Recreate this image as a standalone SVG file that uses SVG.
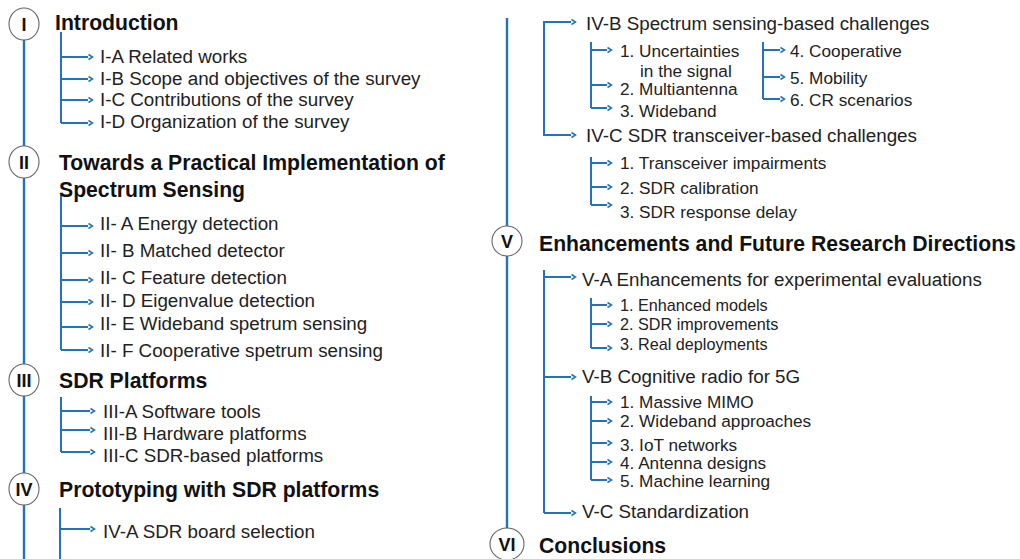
<svg xmlns="http://www.w3.org/2000/svg" width="1020" height="559" viewBox="0 0 1020 559">
<style>
.ln{stroke:#2372bf;stroke-width:2;fill:none}
.sp{stroke:#2372bf;stroke-width:2.4;fill:none}
.ar{stroke:#2372bf;stroke-width:2;fill:none;marker-end:url(#ah)}
.cc{fill:#fff;stroke:#666;stroke-width:1.1}
.rn{font-family:"Liberation Sans",Arial,sans-serif;font-weight:bold;font-size:18px;fill:#111;text-anchor:middle}
.h{font-family:"Liberation Sans",Arial,sans-serif;font-weight:bold;font-size:21.2px;fill:#111}
.t{font-family:"Liberation Sans",Arial,sans-serif;font-size:18.8px;fill:#222}
.s{font-family:"Liberation Sans",Arial,sans-serif;font-size:17.2px;fill:#222}
.s2{font-family:"Liberation Sans",Arial,sans-serif;font-size:16.2px;fill:#222}
</style>
<defs>
<marker id="ah" markerUnits="userSpaceOnUse" markerWidth="8" markerHeight="8" refX="0" refY="4" orient="auto">
<path d="M0.5,1.5 L4.5,4 L0.5,6.5" fill="none" stroke="#2372bf" stroke-width="1.5"/>
</marker>
</defs>
<g id="connectors">
<line class="sp" x1="24" y1="38" x2="24" y2="559"/>
<line class="sp" x1="507" y1="18" x2="507" y2="540"/>
<line class="ln" x1="61" y1="32" x2="61" y2="123"/>
<line class="ar" x1="61" y1="57" x2="88" y2="57"/>
<line class="ar" x1="61" y1="79" x2="88" y2="79"/>
<line class="ar" x1="61" y1="100" x2="88" y2="100"/>
<line class="ar" x1="61" y1="123" x2="88" y2="123"/>
<line class="ln" x1="61" y1="195" x2="61" y2="350"/>
<line class="ar" x1="61" y1="226" x2="88" y2="226"/>
<line class="ar" x1="61" y1="253" x2="88" y2="253"/>
<line class="ar" x1="61" y1="280" x2="88" y2="280"/>
<line class="ar" x1="61" y1="302" x2="88" y2="302"/>
<line class="ar" x1="61" y1="327" x2="88" y2="327"/>
<line class="ar" x1="61" y1="350" x2="88" y2="350"/>
<line class="ln" x1="61" y1="397" x2="61" y2="452"/>
<line class="ar" x1="61" y1="411" x2="90" y2="411"/>
<line class="ar" x1="61" y1="430" x2="90" y2="430"/>
<line class="ar" x1="61" y1="452" x2="90" y2="452"/>
<line class="ln" x1="60" y1="508" x2="60" y2="559"/>
<line class="ar" x1="60" y1="529" x2="90" y2="529"/>
<line class="ln" x1="544" y1="22" x2="544" y2="135"/>
<line class="ar" x1="543" y1="22" x2="571" y2="22"/>
<line class="ar" x1="543" y1="135" x2="571" y2="135"/>
<line class="ln" x1="591" y1="42" x2="591" y2="108"/>
<line class="ar" x1="591" y1="50" x2="607" y2="50"/>
<line class="ar" x1="591" y1="85" x2="607" y2="85"/>
<line class="ar" x1="591" y1="108" x2="607" y2="108"/>
<line class="ln" x1="763" y1="42" x2="763" y2="99"/>
<line class="ar" x1="763" y1="50" x2="780" y2="50"/>
<line class="ar" x1="763" y1="77" x2="780" y2="77"/>
<line class="ar" x1="763" y1="99" x2="780" y2="99"/>
<line class="ln" x1="591" y1="157" x2="591" y2="205"/>
<line class="ar" x1="591" y1="163" x2="607" y2="163"/>
<line class="ar" x1="591" y1="187" x2="607" y2="187"/>
<line class="ar" x1="591" y1="205" x2="607" y2="205"/>
<line class="ln" x1="544" y1="270" x2="544" y2="513"/>
<line class="ar" x1="544" y1="277" x2="571" y2="277"/>
<line class="ar" x1="544" y1="377" x2="571" y2="377"/>
<line class="ar" x1="544" y1="513" x2="571" y2="513"/>
<line class="ln" x1="591" y1="298" x2="591" y2="348"/>
<line class="ar" x1="591" y1="305" x2="607" y2="305"/>
<line class="ar" x1="591" y1="324" x2="607" y2="324"/>
<line class="ar" x1="591" y1="348" x2="607" y2="348"/>
<line class="ln" x1="591" y1="396" x2="591" y2="480"/>
<line class="ar" x1="591" y1="402" x2="607" y2="402"/>
<line class="ar" x1="591" y1="421" x2="607" y2="421"/>
<line class="ar" x1="591" y1="443" x2="607" y2="443"/>
<line class="ar" x1="591" y1="462" x2="607" y2="462"/>
<line class="ar" x1="591" y1="480" x2="607" y2="480"/>
</g>
<g id="sec-I">
<ellipse class="cc" cx="24" cy="24" rx="15" ry="16"/>
<text class="rn" x="24" y="31">I</text>
<text class="h" x="55" y="30">Introduction</text>
</g>
<g id="I-items">
<text class="t" x="100" y="63">I-A Related works</text>
<text class="t" x="100" y="85">I-B Scope and objectives of the survey</text>
<text class="t" x="100" y="106">I-C Contributions of the survey</text>
<text class="t" x="100" y="128">I-D Organization of the survey</text>
</g>
<g id="sec-II">
<ellipse class="cc" cx="24" cy="162" rx="15" ry="16"/>
<text class="rn" x="24" y="169">II</text>
<text class="h" x="59" y="170">Towards a Practical Implementation of</text>
<text class="h" x="59" y="197">Spectrum Sensing</text>
</g>
<g id="II-items">
<text class="t" x="100" y="230">II- A Energy detection</text>
<text class="t" x="100" y="257">II- B Matched detector</text>
<text class="t" x="100" y="284">II- C Feature detection</text>
<text class="t" x="100" y="307">II- D Eigenvalue detection</text>
<text class="t" x="100" y="330">II- E Wideband spetrum sensing</text>
<text class="t" x="100" y="357">II- F Cooperative spetrum sensing</text>
</g>
<g id="sec-III">
<ellipse class="cc" cx="24" cy="380" rx="15" ry="16"/>
<text class="rn" x="24" y="387">III</text>
<text class="h" x="59" y="388">SDR Platforms</text>
</g>
<g id="III-items">
<text class="t" x="103" y="418">III-A Software tools</text>
<text class="t" x="103" y="440">III-B Hardware platforms</text>
<text class="t" x="103" y="462">III-C SDR-based platforms</text>
</g>
<g id="sec-IV">
<ellipse class="cc" cx="24" cy="489" rx="15" ry="16"/>
<text class="rn" x="24" y="496">IV</text>
<text class="h" x="59" y="497">Prototyping with SDR platforms</text>
</g>
<g id="IV-items">
<text class="t" x="103" y="538">IV-A SDR board selection</text>
<text class="t" x="586" y="30">IV-B Spectrum sensing-based challenges</text>
<text class="s" x="620" y="57">1. Uncertainties</text>
<text class="s" x="640" y="77">in the signal</text>
<text class="s" x="620" y="95">2. Multiantenna</text>
<text class="s" x="620" y="117">3. Wideband</text>
<text class="s" x="790" y="57">4. Cooperative</text>
<text class="s" x="790" y="84">5. Mobility</text>
<text class="s" x="790" y="106">6. CR scenarios</text>
<text class="t" x="586" y="142">IV-C SDR transceiver-based challenges</text>
<text class="s" x="620" y="169">1. Transceiver impairments</text>
<text class="s" x="620" y="194">2. SDR calibration</text>
<text class="s" x="620" y="218">3. SDR response delay</text>
</g>
<g id="sec-V">
<ellipse class="cc" cx="507" cy="241" rx="15" ry="15"/>
<text class="rn" x="507" y="248">V</text>
<text class="h" x="539" y="251">Enhancements and Future Research Directions</text>
</g>
<g id="V-items">
<text class="t" x="582" y="286">V-A Enhancements for experimental evaluations</text>
<text class="s2" x="620" y="311">1. Enhanced models</text>
<text class="s2" x="620" y="330">2. SDR improvements</text>
<text class="s2" x="620" y="350">3. Real deployments</text>
<text class="t" x="582" y="383">V-B Cognitive radio for 5G</text>
<text class="s" x="620" y="408">1. Massive MIMO</text>
<text class="s" x="620" y="427">2. Wideband approaches</text>
<text class="s" x="620" y="451">3. IoT networks</text>
<text class="s" x="620" y="469">4. Antenna designs</text>
<text class="s" x="620" y="487">5. Machine learning</text>
<text class="t" x="582" y="518">V-C Standardization</text>
</g>
<g id="sec-VI">
<ellipse class="cc" cx="507" cy="544" rx="17" ry="16"/>
<text class="rn" x="507" y="551">VI</text>
<text class="h" x="539" y="553">Conclusions</text>
</g>
</svg>
